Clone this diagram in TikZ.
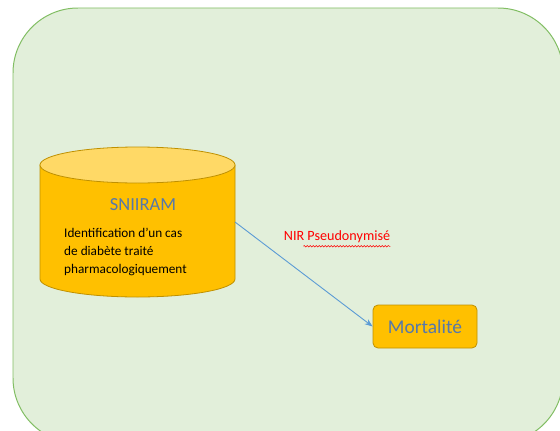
\documentclass[tikz,border=0pt]{standalone}
\usepackage{fontspec}
\setmainfont{Carlito}
\usetikzlibrary{arrows.meta,decorations.pathmorphing}
\definecolor{bgfill}{RGB}{226,239,218}
\definecolor{bgline}{RGB}{130,190,100}
\definecolor{gold}{RGB}{255,192,0}
\definecolor{goldtop}{RGB}{255,217,102}
\definecolor{goldline}{RGB}{191,144,0}
\definecolor{titleblue}{RGB}{86,120,170}
\definecolor{arrowblue}{RGB}{91,155,213}
\tikzset{
  goldshape/.style={fill=gold,draw=goldline,line width=0.8pt},
  boxnode/.style={goldshape,rounded corners=5bp,minimum width=104bp,minimum height=43bp,inner sep=0pt,
     font=\fontsize{19.5}{22}\selectfont,text=titleblue},
  link/.style={draw=arrowblue,line width=0.9pt,-{Stealth[length=8bp,width=6bp]}},
  lbl/.style={text=red,font=\fontsize{14.2}{16}\selectfont,inner sep=0pt}
}
\begin{document}
\begin{tikzpicture}[x=1bp,y=1bp]
\useasboundingbox (0,0) rectangle (560,430);
% background panel
\draw[fill=bgfill,draw=bgline,line width=1pt,rounded corners=65bp] (13,-13) rectangle (563,422);
% cylinder
\path[goldshape] (40,265) -- (40,151) arc[start angle=180,end angle=360,x radius=97.5,y radius=18] -- (235,265) -- cycle;
\path[fill=goldtop,draw=goldline,line width=0.8pt] (137.5,265) ellipse [x radius=97.5,y radius=18];
\node[text=titleblue,font=\fontsize{18.5}{21}\selectfont,inner sep=0pt] (sn) at (143,225) {SNIIRAM};
\node[anchor=west,align=left,font=\fontsize{13.3}{18.5}\selectfont,inner sep=0pt] (desc) at (64,178)
  {Identification d’un cas\\de diabète traité\\pharmacologiquement};
\coordinate (cyl) at (235,208);
% mortality box
\node[boxnode] (mort) at (425,103.5) {Mortalité};
% connector
\draw[link] (cyl) -- (mort.west);
\node[lbl] (nir) at (337,193) {NIR Pseudonymisé};
\draw[red,line width=0.5pt,decorate,decoration={snake,amplitude=0.8bp,segment length=3bp}]
  ([xshift=-87bp,yshift=-3bp]nir.south east) -- ([yshift=-3bp]nir.south east);
\end{tikzpicture}
\end{document}
